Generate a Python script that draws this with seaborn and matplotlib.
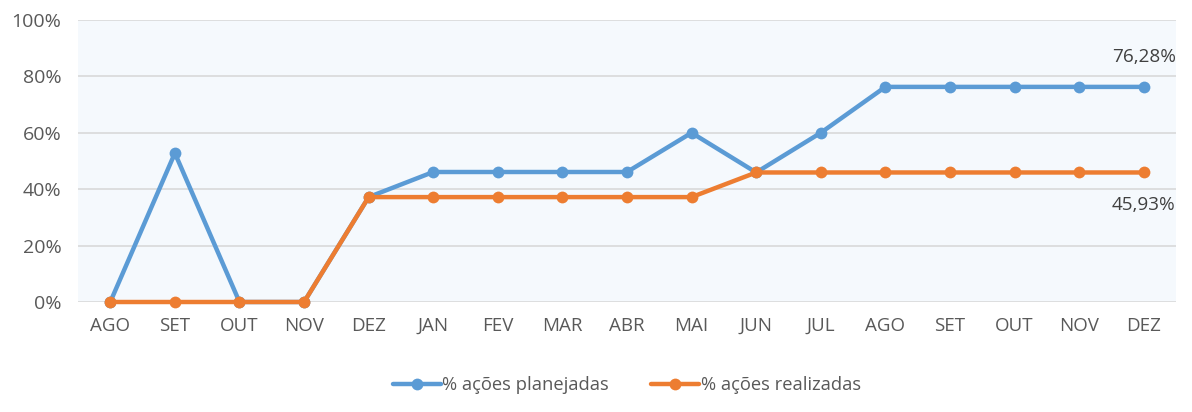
import numpy as np
import pandas as pd
import matplotlib
matplotlib.use("Agg")
import matplotlib.pyplot as plt
import seaborn as sns

months = ["AGO", "SET", "OUT", "NOV", "DEZ", "JAN", "FEV", "MAR", "ABR",
          "MAI", "JUN", "JUL", "AGO", "SET", "OUT", "NOV", "DEZ"]
planejadas = [0, 52.8, 0, 0, 37.2, 46.1, 46.1, 46.1, 46.1,
              60.0, 45.93, 60.0, 76.28, 76.28, 76.28, 76.28, 76.28]
realizadas = [0, 0, 0, 0, 37.2, 37.2, 37.2, 37.2, 37.2,
              37.2, 45.93, 45.93, 45.93, 45.93, 45.93, 45.93, 45.93]
series_names = ["% ações planejadas", "% ações realizadas"]
colors = ["#5B9BD5", "#ED7D31"]

sns.set_style("white")
plt.rcParams['font.family'] = ['Open Sans', 'DejaVu Sans']

idx = np.arange(len(months))
df = pd.DataFrame({
    "idx": np.concatenate([idx, idx]),
    "valor": np.array(planejadas + realizadas) / 100,
    "serie": [series_names[0]] * len(months) + [series_names[1]] * len(months),
})

fig = plt.figure(figsize=(11.92, 4.12), dpi=100)
ax = fig.add_axes([78 / 1192, 1 - 302 / 412, (1176 - 78) / 1192, 282 / 412])
ax.set_facecolor("#F5F9FD")

sns.lineplot(data=df, x="idx", y="valor", hue="serie", palette=colors,
             marker="o", markersize=8.5, markeredgewidth=0, linewidth=3.2,
             ax=ax, clip_on=False, zorder=3)

ax.set_xlim(-0.5, len(months) - 0.5)
ax.set_ylim(0, 1)
ax.set_yticks(np.arange(0, 1.01, 0.2))
ax.set_yticklabels([f"{int(v * 100)}%" for v in np.arange(0, 1.01, 0.2)])
ax.set_xticks(idx)
ax.set_xticklabels(months)
ax.tick_params(axis="both", length=0, colors="#595959")
ax.tick_params(axis="x", pad=11, labelsize=13.5)
ax.tick_params(axis="y", pad=12, labelsize=14)
ax.yaxis.grid(True, color="#D9D9D9", linewidth=1.2)
ax.set_axisbelow(True)
for s in ax.spines.values():
    s.set_visible(False)
ax.set_xlabel("")
ax.set_ylabel("")

last = len(months) - 1
ax.text(last, planejadas[-1] / 100 + 0.106, "76,28%", ha="center", va="center",
        fontsize=13.6, color="#404040")
ax.text(last, realizadas[-1] / 100 - 0.115, "45,93%", ha="center", va="center",
        fontsize=13.6, color="#404040")

ax.legend(loc="upper center", bbox_to_anchor=(0.5, -0.205), ncol=2, frameon=False,
          fontsize=13.2, handlelength=2.6, handletextpad=0.1, columnspacing=2.3,
          labelcolor="#595959")

fig.savefig("out.png", dpi=100, facecolor="white")
